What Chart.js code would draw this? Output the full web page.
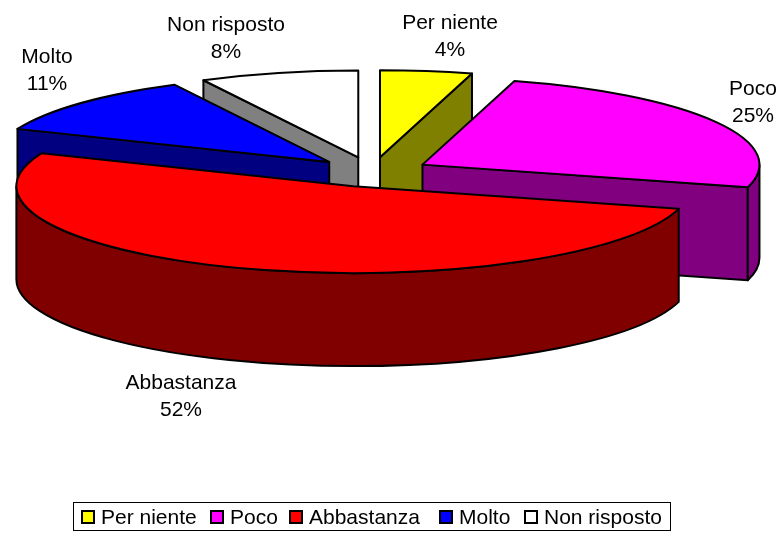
<!DOCTYPE html>
<html>
<head>
<meta charset="utf-8">
<script src="https://cdn.jsdelivr.net/npm/chart.js@4"></script>
<style>
  html, body { margin: 0; padding: 0; background: #fff; overflow: hidden; }
  #wrap { position: relative; width: 783px; height: 533px; }
  #legend {
    position: absolute; left: 73px; top: 502px; width: 598px; height: 29px; box-sizing: border-box;
    border: 1px solid #000; font: 21px "Liberation Sans", Arial, sans-serif; color: #000;
  }
  #legend span { position: absolute; top: 1px; line-height: 26px; white-space: nowrap; padding-left: 20px; }
  #legend i {
    position: absolute; left: 0; top: 6px; width: 10px; height: 10px; border: 2px solid #000;
  }
</style>
</head>
<body>
<div id="wrap">
  <canvas id="myChart" width="783" height="533"></canvas>
  <div id="legend"></div>
</div>
<script>
const categories = ['Per niente', 'Poco', 'Abbastanza', 'Molto', 'Non risposto'];
const values = [4.4, 24.8, 52, 11.2, 7.6]; // shown rounded on the labels
const sliceColors = ['#ffff00', '#ff00ff', '#ff0000', '#0000ff', '#ffffff'];
const wallColors = ['#808000', '#800080', '#800000', '#000080', '#808080'];

// back to front
const drawOrder = [0, 4, 3, 1, 2];
const labelSpots = [[450, 23], [753, 89], [181, 383], [47, 57], [226, 25]];
const legendLefts = [7, 136, 215, 365, 450];

const radius = 337;
const squash = 0.258;
const depth = 93;
const explode = 58;
const pieY = 172;

function sliceCenter(arc) {
  const mid = (arc.startAngle + arc.endAngle) / 2;
  return {
    x: arc.x + Math.cos(mid) * explode,
    y: pieY + Math.sin(mid) * explode * squash
  };
}

function edgeWall(ctx, c, angle, color) {
  const ex = c.x + Math.cos(angle) * radius;
  const ey = c.y + Math.sin(angle) * radius * squash;
  ctx.beginPath();
  ctx.moveTo(c.x, c.y);
  ctx.lineTo(ex, ey);
  ctx.lineTo(ex, ey + depth);
  ctx.lineTo(c.x, c.y + depth);
  ctx.closePath();
  ctx.fillStyle = color;
  ctx.fill();
  ctx.stroke();
}

function rimWall(ctx, c, start, end, color) {
  // only the part of the rim facing the viewer
  const a0 = Math.max(start, 0);
  const a1 = Math.min(end, Math.PI);
  if (a1 <= a0) return;
  ctx.beginPath();
  ctx.ellipse(c.x, c.y, radius, radius * squash, 0, a0, a1);
  ctx.ellipse(c.x, c.y + depth, radius, radius * squash, 0, a1, a0, true);
  ctx.closePath();
  ctx.fillStyle = color;
  ctx.fill();
  ctx.stroke();
}

const pie3d = {
  id: 'pie3d',
  beforeDatasetDraw(chart) {
    const ctx = chart.ctx;
    const arcs = chart.getDatasetMeta(0).data;
    ctx.save();
    ctx.strokeStyle = '#000';
    ctx.lineWidth = 2;
    ctx.lineJoin = 'round';
    drawOrder.forEach(i => {
      const arc = arcs[i];
      const c = sliceCenter(arc);
      // cut faces that turn away from the viewer are skipped
      if (Math.cos(arc.startAngle) < -1e-6) edgeWall(ctx, c, arc.startAngle, wallColors[i]);
      if (Math.cos(arc.endAngle) > 1e-6) edgeWall(ctx, c, arc.endAngle, wallColors[i]);
      rimWall(ctx, c, arc.startAngle, arc.endAngle, wallColors[i]);

      ctx.save();
      ctx.translate(c.x, c.y);
      ctx.scale(1, squash);
      ctx.translate(-arc.x, -arc.y);
      arc.draw(ctx);
      ctx.restore();

      // outline here so the stroke is not squashed
      ctx.beginPath();
      ctx.moveTo(c.x, c.y);
      ctx.ellipse(c.x, c.y, radius, radius * squash, 0, arc.startAngle, arc.endAngle);
      ctx.closePath();
      ctx.stroke();
    });
    ctx.restore();
    return false;
  },
  afterDatasetsDraw(chart) {
    const ctx = chart.ctx;
    ctx.save();
    ctx.fillStyle = '#000';
    ctx.font = '21px "Liberation Sans", Arial, sans-serif';
    ctx.textAlign = 'center';
    ctx.textBaseline = 'middle';
    categories.forEach((name, i) => {
      ctx.fillText(name, labelSpots[i][0], labelSpots[i][1]);
      ctx.fillText(Math.round(values[i]) + '%', labelSpots[i][0], labelSpots[i][1] + 27);
    });
    ctx.restore();
  }
};

new Chart(document.getElementById('myChart').getContext('2d'), {
  type: 'pie',
  data: {
    labels: categories,
    datasets: [{
      data: values,
      backgroundColor: sliceColors,
      borderWidth: 0
    }]
  },
  options: {
    responsive: false,
    animation: false,
    radius: radius,
    layout: { padding: { right: 39 } },
    plugins: {
      legend: { display: false },
      tooltip: { enabled: false }
    }
  },
  plugins: [pie3d]
});

// legend box under the chart
const legendBox = document.getElementById('legend');
categories.forEach((name, i) => {
  const item = document.createElement('span');
  item.style.left = legendLefts[i] + 'px';
  const swatch = document.createElement('i');
  swatch.style.background = sliceColors[i];
  item.appendChild(swatch);
  item.appendChild(document.createTextNode(name));
  legendBox.appendChild(item);
});
</script>
</body>
</html>
